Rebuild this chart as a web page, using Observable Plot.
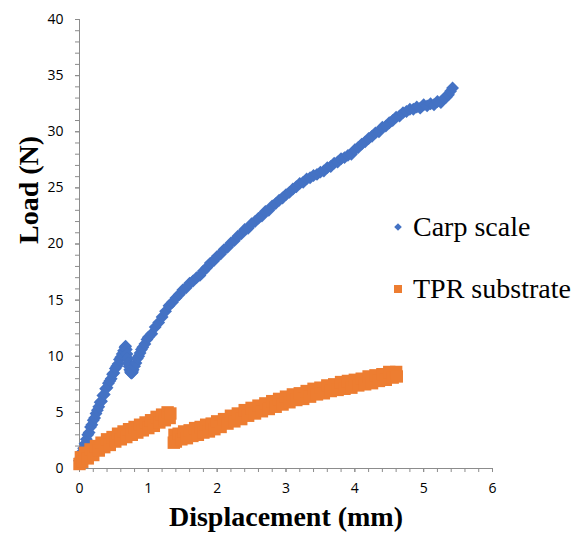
<!DOCTYPE html>
<html><head><meta charset="utf-8">
<script src="https://cdn.jsdelivr.net/npm/d3@7"></script>
<script src="https://cdn.jsdelivr.net/npm/@observablehq/plot@0.6"></script>
<style>
body{margin:0;background:#fff;}
#wrap{position:relative;width:579px;height:535px;}
.leg{position:absolute;left:392px;height:32px;font-family:"Liberation Serif","Times New Roman",serif;font-size:28px;color:#000;display:flex;align-items:center;white-space:nowrap;}
.leg svg{margin-right:9px;}
</style></head><body><div id="wrap"></div>
<script>
const carpDisp=[0.00,0.02,0.04,0.06,0.08,0.10,0.12,0.14,0.16,0.18,0.20,0.22,0.24,0.26,0.28,0.30,0.32,0.34,0.36,0.38,0.40,0.42,0.44,0.46,0.48,0.50,0.52,0.54,0.56,0.58,0.60,0.62,0.64,0.66,0.67,0.68,0.69,0.70,0.71,0.72,0.73,0.74,0.75,0.76,0.77,0.78,0.80,0.82,0.84,0.86,0.88,0.90,0.92,0.95,0.98,
1.00,1.05,1.10,1.15,1.20,1.25,1.30,1.35,1.40,1.45,1.50,1.55,1.60,1.65,1.70,1.75,1.80,1.85,1.90,1.95,
2.00,2.05,2.10,2.15,2.20,2.25,2.30,2.35,2.40,2.45,2.50,2.55,2.60,2.65,2.70,2.75,2.80,2.85,2.90,2.95,
3.00,3.05,3.10,3.15,3.20,3.25,3.30,3.35,3.40,3.45,3.50,3.55,3.60,3.65,3.70,3.75,3.80,3.85,3.90,3.95,
4.00,4.05,4.10,4.15,4.20,4.25,4.30,4.35,4.40,4.45,4.50,4.55,4.60,4.65,4.70,4.75,4.80,4.85,4.90,4.95,
5.00,5.05,5.10,5.15,5.20,5.25,5.30,5.33,5.36,5.39,5.42];
const carpLoad=[0.7,1.0,1.5,1.8,2.2,2.6,3.0,3.2,3.7,3.9,4.3,4.5,4.9,5.2,5.5,5.9,6.0,6.5,6.6,7.1,7.2,7.6,7.8,8.0,8.4,8.5,8.9,9.1,9.3,9.7,9.9,10.2,10.5,10.8,10.9,10.6,10.2,9.8,9.4,9.1,8.8,8.6,8.5,8.5,8.6,8.8,9.1,9.4,9.8,10.0,10.3,10.6,10.8,11.1,11.5,
11.7,12.0,12.6,13.0,13.5,14.0,14.5,14.8,15.2,15.5,15.9,16.1,16.5,16.7,17.0,17.2,17.6,17.9,18.3,18.5,
18.9,19.1,19.5,19.7,20.1,20.3,20.7,20.9,21.3,21.4,21.8,22.0,22.3,22.5,22.9,23.0,23.4,23.6,23.9,24.1,
24.4,24.6,24.9,25.1,25.4,25.5,25.8,25.9,26.1,26.2,26.4,26.5,26.8,26.9,27.2,27.3,27.6,27.7,27.9,28.0,
28.4,28.6,28.9,29.1,29.4,29.6,29.9,30.0,30.4,30.5,30.8,31.0,31.3,31.4,31.7,31.8,32.0,32.0,32.2,32.1,
32.4,32.3,32.5,32.4,32.7,32.6,33.0,33.1,33.3,33.6,33.9];
const tprDisp=[0.00,0.02,0.04,0.08,0.12,0.16,0.20,0.24,0.28,0.32,0.36,0.40,0.44,0.48,0.52,0.56,0.60,0.64,0.68,0.72,0.76,0.80,0.84,0.88,0.92,0.96,
1.00,1.04,1.08,1.12,1.16,1.20,1.24,1.28,1.31,1.32,1.37,1.38,1.40,1.44,1.48,1.52,1.56,1.60,1.64,1.68,1.72,1.76,1.80,1.84,1.88,1.92,1.96,
2.00,2.05,2.10,2.15,2.20,2.25,2.30,2.35,2.40,2.45,2.50,2.55,2.60,2.65,2.70,2.75,2.80,2.85,2.90,2.95,
3.00,3.05,3.10,3.15,3.20,3.25,3.30,3.35,3.40,3.45,3.50,3.55,3.60,3.65,3.70,3.75,3.80,3.85,3.90,3.95,
4.00,4.05,4.10,4.15,4.20,4.25,4.30,4.35,4.40,4.45,4.50,4.55,4.60,4.61];
const tprLoad=[0.4,1.0,0.6,1.4,0.9,1.7,1.2,2.0,1.6,2.3,1.9,2.6,2.1,2.8,2.4,3.1,2.6,3.3,2.8,3.5,3.0,3.7,3.2,3.9,3.4,4.1,
3.6,4.3,3.8,4.6,4.1,4.8,4.3,5.0,4.5,4.9,2.3,3.0,2.4,3.1,2.6,3.3,2.7,3.4,2.9,3.6,3.0,3.7,3.2,3.9,3.3,4.0,3.5,
4.2,3.7,4.4,4.0,4.7,4.2,4.9,4.4,5.2,4.7,5.4,4.9,5.6,5.1,5.8,5.3,6.0,5.5,6.2,5.7,
6.4,5.9,6.6,6.1,6.7,6.2,6.9,6.4,7.1,6.6,7.2,6.7,7.4,6.9,7.5,7.0,7.7,7.1,7.8,7.2,
7.9,7.4,8.0,7.5,8.2,7.6,8.3,7.8,8.4,7.9,8.6,8.1,8.6,8.2];
const xTicks=[0,1,2,3,4,5,6];
const yTicks=[0,5,10,15,20,25,30,35,40];
const xMinorStep=0.2, yMinorStep=1;
const seriesNames=["Carp scale","TPR substrate"];
const seriesColors=["#4472C4","#ED7D31"];
const xTitle="Displacement (mm)", yTitle="Load (N)";

const carp=carpDisp.map((x,i)=>({x,y:carpLoad[i]}));
const tpr=tprDisp.map((x,i)=>({x,y:tprLoad[i]}));
const xMinor=d3.range(0,6+1e-9,xMinorStep);
const yMinor=d3.range(0,40+1e-9,yMinorStep);
const axisGray="#8c8c8c";
const titleFont="'Liberation Serif','Times New Roman',serif";

const chart=Plot.plot({
  width:579,height:535,marginLeft:79,marginRight:87,marginTop:19,marginBottom:67,
  x:{domain:[0,6]},y:{domain:[0,40]},
  style:{fontFamily:"'Open Sans',sans-serif",fontSize:"14px",color:"#000",background:"#fff"},
  marks:[
    Plot.axisY(yMinor,{tickSize:4,tickFormat:()=>"",label:null,stroke:axisGray}),
    Plot.axisY(yTicks,{tickSize:4,tickPadding:12,label:null,stroke:axisGray,fill:"#000"}),
    Plot.axisX(xMinor,{tickSize:4,tickFormat:()=>"",label:null,stroke:axisGray}),
    Plot.axisX(xTicks,{tickSize:4,tickPadding:11,label:null,stroke:axisGray,fill:"#000"}),
    Plot.ruleX([0],{stroke:axisGray}),
    Plot.ruleY([0],{stroke:axisGray}),
    Plot.dot(carp,{x:"x",y:"y",symbol:"diamond2",r:5.8,fill:seriesColors[0],stroke:null}),
    Plot.dot(tpr,{x:"x",y:"y",symbol:"square",r:7,fill:seriesColors[1],stroke:null}),
    Plot.text([yTitle],{text:d=>d,frameAnchor:"left",rotate:-90,dx:-50,lineAnchor:"middle",fontFamily:titleFont,fontSize:28,fontWeight:"bold",fill:"#000"}),
    Plot.text([xTitle],{text:d=>d,frameAnchor:"bottom",dy:49,lineAnchor:"middle",fontFamily:titleFont,fontSize:28,fontWeight:"bold",fill:"#000"})
  ]
});
const wrap=document.getElementById("wrap");
wrap.appendChild(chart);
const legTops=[211,273];
seriesNames.forEach((name,i)=>{
  const d=document.createElement("div");
  d.className="leg";
  d.style.top=legTops[i]+"px";
  const shape=i===0
    ?`<svg width="12" height="12"><path d="M6,2.2L9.8,6L6,9.8L2.2,6Z" fill="${seriesColors[0]}"/></svg>`
    :`<svg width="12" height="12"><rect x="2" y="2" width="8" height="8" fill="${seriesColors[1]}"/></svg>`;
  d.innerHTML=shape+`<span>${name}</span>`;
  wrap.appendChild(d);
});
</script></body></html>
